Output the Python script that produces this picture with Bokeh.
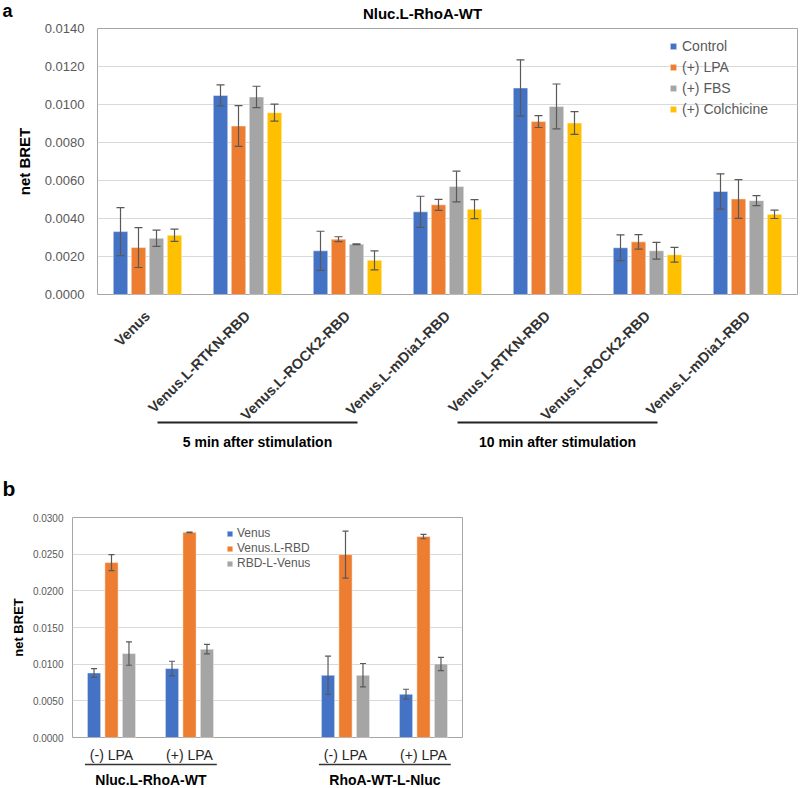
import numpy as np
from bokeh.plotting import figure
from bokeh.models import (Range1d, FixedTicker, PrintfTickFormatter, Whisker,
                          ColumnDataSource, Legend, LegendItem, TeeHead)
from bokeh.layouts import column
from bokeh.embed import file_html
from bokeh.resources import INLINE
from bokeh.core.properties import value

FONT = "Liberation Sans"

# ---------------- data: panel a ----------------
a_title = "Nluc.L-RhoA-WT"
a_categories = ["Venus", "Venus.L-RTKN-RBD", "Venus.L-ROCK2-RBD", "Venus.L-mDia1-RBD",
                "Venus.L-RTKN-RBD", "Venus.L-ROCK2-RBD", "Venus.L-mDia1-RBD"]
a_series = ["Control", "(+) LPA", "(+) FBS", "(+) Colchicine"]
a_control = [0.00331, 0.01048, 0.00230, 0.00435, 0.01087, 0.00246, 0.00542]
a_control_err = [0.00126, 0.00055, 0.00103, 0.00082, 0.00148, 0.00068, 0.00093]
a_lpa = [0.00247, 0.00887, 0.00291, 0.00472, 0.00910, 0.00277, 0.00503]
a_lpa_err = [0.00105, 0.00107, 0.00013, 0.00029, 0.00031, 0.00038, 0.00102]
a_fbs = [0.00296, 0.01040, 0.00265, 0.00568, 0.00990, 0.00230, 0.00494]
a_fbs_err = [0.00043, 0.00056, 0.00002, 0.00081, 0.00118, 0.00044, 0.00026]
a_colch = [0.00312, 0.00957, 0.00180, 0.00449, 0.00903, 0.00209, 0.00422]
a_colch_err = [0.00032, 0.00045, 0.00050, 0.00050, 0.00060, 0.00039, 0.00022]
a_yticks = [0.0, 0.002, 0.004, 0.006, 0.008, 0.010, 0.012, 0.014]
a_brackets = ["5 min after stimulation", "10 min after stimulation"]
a_bracket_groups = [(1, 2), (4, 5)]

# ---------------- data: panel b ----------------
b_constructs = ["Nluc.L-RhoA-WT", "RhoA-WT-L-Nluc"]
b_conditions = ["(-) LPA", "(+) LPA"]
b_series = ["Venus", "Venus.L-RBD", "RBD-L-Venus"]
b_venus = [0.00880, 0.00940, 0.00849, 0.00590]
b_venus_err = [0.00060, 0.00100, 0.00260, 0.00068]
b_lrbd = [0.02385, 0.02798, 0.02494, 0.02740]
b_lrbd_err = [0.00110, 0.00003, 0.00320, 0.00030]
b_rbdl = [0.01145, 0.01204, 0.00849, 0.01003]
b_rbdl_err = [0.00160, 0.00065, 0.00160, 0.00090]
b_yticks = [0.0, 0.005, 0.010, 0.015, 0.020, 0.025, 0.030]

COLORS = ["#4472C4", "#ED7D31", "#A5A5A5", "#FFC000"]
ERR = "#595959"
TICK_C = "#595959"
W = 798
WB = 463


def unalign(p):
    try:
        p.frame_align = False
    except Exception:
        pass


def strip(height, x_range, left=0, right=0, width=W):
    s = figure(width=width, height=height, x_range=x_range, y_range=Range1d(height, 0),
               x_axis_location=None, y_axis_location=None, toolbar_location=None,
               output_backend="svg", min_border_left=left, min_border_right=right,
               min_border_top=0, min_border_bottom=0, outline_line_color=None, title=None)
    s.background_fill_color = "white"
    s.border_fill_color = "white"
    s.grid.visible = False
    unalign(s)
    return s


def bars(p, centers, series_vals, series_errs, names, offsets, bw, head, legend_kw):
    items = []
    for k, (vals, errs, name) in enumerate(zip(series_vals, series_errs, names)):
        x = np.asarray(centers) + offsets[k]
        v = np.asarray(vals)
        e = np.asarray(errs)
        src = ColumnDataSource(dict(x=x, top=v, upper=v + e, lower=v - e))
        r = p.vbar(x="x", top="top", width=bw, bottom=0, source=src,
                   fill_color=COLORS[k], line_color="white", line_alpha=0.6, line_width=0.8)
        w = Whisker(base="x", upper="upper", lower="lower", source=src, dimension="height",
                    line_color=ERR, line_width=1.2,
                    upper_head=TeeHead(size=head, line_color=ERR, line_width=1.2),
                    lower_head=TeeHead(size=head, line_color=ERR, line_width=1.2))
        w.level = "overlay"
        p.add_layout(w)
        items.append(LegendItem(label=name, renderers=[r]))
    leg = Legend(items=items, **legend_kw)
    leg.background_fill_alpha = 0
    leg.border_line_color = None
    leg.padding = 0
    leg.margin = 0
    leg.label_text_font = FONT
    leg.label_text_color = TICK_C
    p.add_layout(leg)


def style_y(p, ticks, fmt_size, label_size, standoff, label_standoff):
    p.yaxis.ticker = FixedTicker(ticks=ticks)
    p.ygrid.ticker = FixedTicker(ticks=ticks)
    p.yaxis.formatter = PrintfTickFormatter(format="%.4f")
    p.yaxis.major_label_text_font = FONT
    p.yaxis.major_label_text_font_size = fmt_size
    p.yaxis.major_label_text_color = TICK_C
    p.yaxis.axis_line_color = None
    p.yaxis.major_tick_line_color = None
    p.yaxis.minor_tick_line_color = None
    p.yaxis.major_tick_out = 0
    p.yaxis.major_label_standoff = standoff
    p.yaxis.axis_label = "net BRET"
    p.yaxis.axis_label_text_font = FONT
    p.yaxis.axis_label_text_font_style = "bold"
    p.yaxis.axis_label_text_font_size = label_size
    p.yaxis.axis_label_text_color = "black"
    p.yaxis.axis_label_standoff = label_standoff
    p.ygrid.grid_line_color = "#d9d9d9"
    p.ygrid.grid_line_width = 1
    p.xgrid.visible = False
    p.outline_line_color = "#a6a6a6"
    p.outline_line_width = 1
    p.background_fill_color = "white"
    p.border_fill_color = "white"
    unalign(p)


# ---------------- header a ----------------
f1 = strip(21, Range1d(0, W))
f1.text(x=[2], y=[10.5], text=["a"], text_font=value(FONT), text_font_size="18px",
        text_font_style="bold", text_color="black", text_baseline="middle")
f1.text(x=[422], y=[12.5], text=[a_title], text_font=value(FONT), text_font_size="15px",
        text_font_style="bold", text_color="black", text_align="center",
        text_baseline="middle")

# ---------------- chart a ----------------
na = len(a_categories)
xa = Range1d(0, na)
f2 = figure(width=W, height=281, x_range=xa, y_range=Range1d(0, 0.014),
            x_axis_location=None, toolbar_location=None, output_backend="svg",
            min_border_left=97, min_border_right=1, min_border_top=7, min_border_bottom=8,
            title=None)
style_y(f2, a_yticks, "13px", "15px", 13, 9)
ca = np.arange(na) + 0.5
bars(f2, ca, [a_control, a_lpa, a_fbs, a_colch],
     [a_control_err, a_lpa_err, a_fbs_err, a_colch_err], a_series,
     [-0.27, -0.09, 0.09, 0.27], 0.145, 8,
     dict(location=(572, 177), spacing=4, label_height=17, glyph_height=8, glyph_width=8,
          label_standoff=5, label_text_font_size="14px"))

# ---------------- labels under chart a ----------------
f3 = strip(153, xa, left=97, right=1)
f3.text(x=ca, y=[11] * na, text=a_categories, angle=np.pi / 4, text_align="right",
        text_baseline="middle", text_font=value(FONT), text_font_size="14.5px",
        text_font_style="bold", text_color="#333333")
bx0 = [g0 + 0.5 - 0.9 for g0, g1 in a_bracket_groups]
bx1 = [g1 + 0.5 + 0.1 for g0, g1 in a_bracket_groups]
f3.segment(x0=bx0, y0=[120] * 2, x1=bx1, y1=[120] * 2, line_color="#222222", line_width=1.8)
f3.text(x=[(u + v) / 2 for u, v in zip(bx0, bx1)], y=[139] * 2, text=a_brackets,
        text_align="center", text_baseline="middle", text_font=value(FONT),
        text_font_size="14px", text_font_style="bold", text_color="black")

# ---------------- header b ----------------
f4 = strip(54, Range1d(0, WB), width=WB)
f4.text(x=[2], y=[33], text=["b"], text_font=value(FONT), text_font_size="21px",
        text_font_style="bold", text_color="black", text_baseline="middle")

# ---------------- chart b ----------------
nc = len(b_conditions)
cb = np.array([i * (nc + 1) + j + 0.5 for i in range(len(b_constructs)) for j in range(nc)])
xb = Range1d(0, len(b_constructs) * (nc + 1) - 1)
f5 = figure(width=WB, height=236, x_range=xb, y_range=Range1d(0, 0.03),
            x_axis_location=None, toolbar_location=None, output_backend="svg",
            min_border_left=72, min_border_right=1, min_border_top=8, min_border_bottom=8,
            title=None)
style_y(f5, b_yticks, "10px", "13px", 9, 4)
bars(f5, cb, [b_venus, b_lrbd, b_rbdl], [b_venus_err, b_lrbd_err, b_rbdl_err], b_series,
     [-0.224, 0.0, 0.224], 0.17, 6,
     dict(location=(154, 167), spacing=1, label_height=14, glyph_height=7, glyph_width=7,
          label_standoff=4, label_text_font_size="12px"))

# ---------------- labels under chart b ----------------
f6 = strip(42, xb, left=72, right=1, width=WB)
f6.text(x=cb, y=[9] * len(cb), text=b_conditions * len(b_constructs), text_align="center",
        text_baseline="middle", text_font=value(FONT), text_font_size="14px",
        text_color="#262626")
gx0 = [cb[i * nc] - 0.34 for i in range(len(b_constructs))]
gx1 = [cb[i * nc + nc - 1] + 0.35 for i in range(len(b_constructs))]
f6.segment(x0=gx0, y0=[19] * 2, x1=gx1, y1=[19] * 2, line_color="#333333", line_width=1.6)
f6.text(x=[(u + v) / 2 for u, v in zip(gx0, gx1)], y=[34] * 2, text=b_constructs,
        text_align="center", text_baseline="middle", text_font=value(FONT),
        text_font_size="14px", text_font_style="bold", text_color="black")

layout = column(f1, f2, f3, f4, f5, f6, spacing=0)
open("out.html", "w").write(file_html(layout, INLINE))
